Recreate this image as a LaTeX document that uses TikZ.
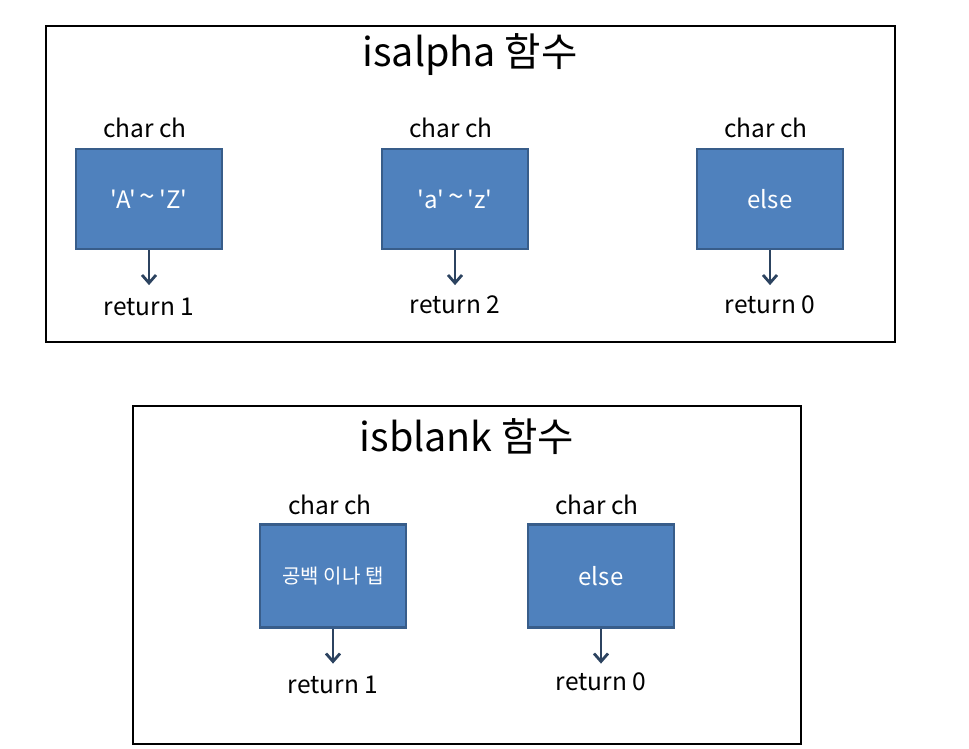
\documentclass[tikz,border=0pt]{standalone}
\usepackage{fontspec}
\setmainfont{Noto Sans CJK KR}
\newfontfamily\plainfont{Noto Sans CJK KR}
\usetikzlibrary{arrows.meta}
\definecolor{boxfill}{HTML}{4F81BD}
\definecolor{boxline}{HTML}{385D8A}
\definecolor{arrowc}{HTML}{2C4360}
\newcommand{\tl}{\,\raisebox{0.1ex}{\fontsize{28}{28}\selectfont\symbol{"7E}}\,}
\begin{document}
\begin{tikzpicture}[x=1pt,y=-1pt,
  frame/.style={draw=black,line width=1.6pt},
  cbox/.style={draw=boxline,fill=boxfill,line width=2.2pt,minimum width=146pt,minimum height=100pt,inner sep=0pt,text=white,font=\fontsize{24}{28}\selectfont},
  lbl/.style={font=\fontsize{24.5}{28}\selectfont,inner sep=0pt},
  ttl/.style={font=\fontsize{39.5}{44}\selectfont,inner sep=0pt},
  arr/.style={draw=arrowc,line width=2.8pt,-{Straight Barb[length=8pt,width=14pt,line width=2.8pt]}}]
\useasboundingbox (0,0) rectangle (969,748);
% frames
\node[frame,minimum width=849pt,minimum height=316pt,anchor=north west,inner sep=0pt] (f1) at (45,25) {};
\node[frame,minimum width=668pt,minimum height=338pt,anchor=north west,inner sep=0pt] (f2) at (132,405) {};
% titles
\node[ttl] (t1) at (470,55) {isalpha 함수};
\node[ttl] (t2) at (467,437) {isblank 함수};
% top row
\node[cbox] (b1) at (149,199) {\plainfont 'A'\tl'Z'};
\node[cbox] (b2) at (455,199) {\plainfont 'a'\tl'z'};
\node[cbox] (b3) at (770,199) {else};
\node[lbl] (c1) at (145,128) {char ch};
\node[lbl] (c2) at (451,128) {char ch};
\node[lbl] (c3) at (766,128) {char ch};
\node[lbl] (r1) at (149,307) {return 1};
\node[lbl] (r2) at (455,305) {return 2};
\node[lbl] (r3) at (770,305) {return 0};
\draw[arr] (b1.south) -- ++(0,35);
\draw[arr] (b2.south) -- ++(0,35);
\draw[arr] (b3.south) -- ++(0,35);
% bottom row
\node[cbox,minimum height=103pt,font=\fontsize{20}{24}\selectfont] (b4) at (333,576) {공백 이나 탭};
\node[cbox,minimum height=103pt] (b5) at (601,576) {else};
\node[lbl] (c4) at (330,505) {char ch};
\node[lbl] (c5) at (597,505) {char ch};
\node[lbl] (r4) at (333,685) {return 1};
\node[lbl] (r5) at (601,682) {return 0};
\draw[arr] (b4.south) -- ++(0,35);
\draw[arr] (b5.south) -- ++(0,35);
\end{tikzpicture}
\end{document}
